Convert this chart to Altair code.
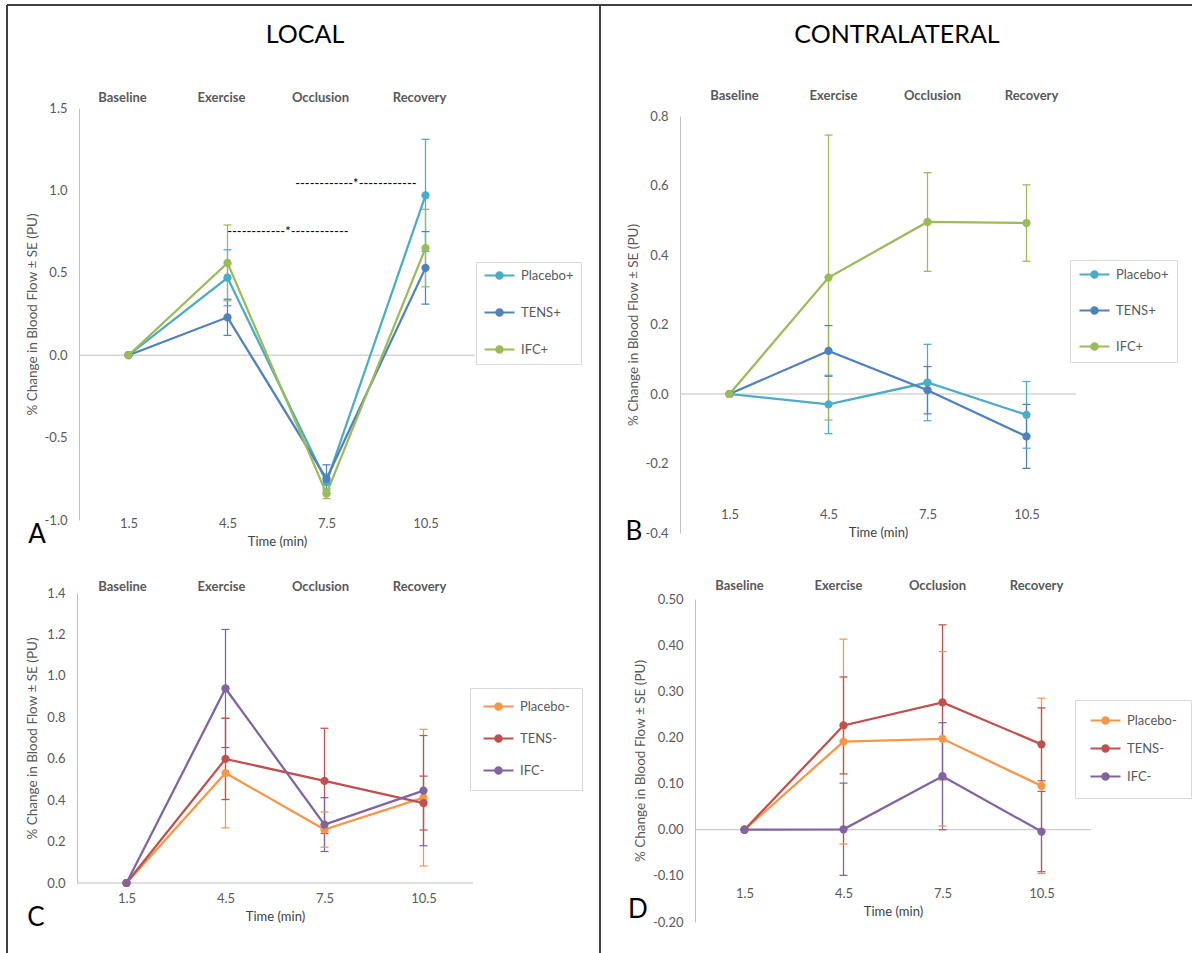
import altair as alt
import pandas as pd

# ---------------- data ----------------
times = [1.5, 4.5, 7.5, 10.5]
phases = ["Baseline", "Exercise", "Occlusion", "Recovery"]
x_ticks = [1.5, 4.5, 7.5, 10.5]

names_pos = ["Placebo+", "TENS+", "IFC+"]
names_neg = ["Placebo-", "TENS-", "IFC-"]
colors_pos = ["#4BACC6", "#4F81BD", "#9BBB59"]
colors_neg = ["#F79646", "#C0504D", "#8064A2"]

# Panel A : local, positive groups
a_placebo = [0.0, 0.47, -0.77, 0.97]
a_placebo_se = [0.0, 0.17, 0.05, 0.34]
a_tens = [0.0, 0.23, -0.75, 0.53]
a_tens_se = [0.0, 0.11, 0.085, 0.22]
a_ifc = [0.0, 0.56, -0.84, 0.65]
a_ifc_se = [0.0, 0.23, 0.03, 0.235]

# Panel B : contralateral, positive groups
b_placebo = [0.0, -0.03, 0.033, -0.06]
b_placebo_se = [0.0, 0.084, 0.11, 0.096]
b_tens = [0.0, 0.124, 0.011, -0.122]
b_tens_se = [0.0, 0.073, 0.068, 0.092]
b_ifc = [0.0, 0.335, 0.495, 0.492]
b_ifc_se = [0.0, 0.41, 0.142, 0.11]

# Panel C : local, negative groups
c_placebo = [0.0, 0.531, 0.258, 0.412]
c_placebo_se = [0.0, 0.265, 0.085, 0.33]
c_tens = [0.0, 0.599, 0.493, 0.386]
c_tens_se = [0.0, 0.196, 0.254, 0.13]
c_ifc = [0.0, 0.939, 0.282, 0.446]
c_ifc_se = [0.0, 0.285, 0.13, 0.266]

# Panel D : contralateral, negative groups
d_placebo = [0.0, 0.191, 0.197, 0.095]
d_placebo_se = [0.0, 0.222, 0.189, 0.19]
d_tens = [0.0, 0.226, 0.276, 0.185]
d_tens_se = [0.0, 0.105, 0.168, 0.079]
d_ifc = [0.0, 0.001, 0.116, -0.004]
d_ifc_se = [0.0, 0.1, 0.116, 0.087]

a_yticks = [-1.0, -0.5, 0.0, 0.5, 1.0, 1.5]
b_yticks = [-0.4, -0.2, 0.0, 0.2, 0.4, 0.6, 0.8]
c_yticks = [0.0, 0.2, 0.4, 0.6, 0.8, 1.0, 1.2, 1.4]
d_yticks = [-0.2, -0.1, 0.0, 0.1, 0.2, 0.3, 0.4, 0.5]

sig_x = [6.33, 8.39]
sig_y = [0.745, 1.04]
sig_text = ["------------*------------", "------------*------------"]

panel_titles = ["LOCAL", "CONTRALATERAL"]
panel_letters = ["A", "B", "C", "D"]

# ---------------- styling ----------------
FONT = "Lato"
GREY = "#595959"
AXIS_GREY = "#BFBFBF"
LEGEND_PATH = ("M-1,-0.2L5,-0.2L5,0.2L-1,0.2Z "
               "M2.85,0A0.85,0.85,0,1,1,1.15,0A0.85,0.85,0,1,1,2.85,0Z")


def label_expr(fmt):
    return ("datum.value < 0 ? '-' + format(-datum.value, '%s') : format(datum.value, '%s')"
            % (fmt, fmt))


def build_panel(names, colors, means, ses, xr, ydom, yr, yticks, yfmt,
                axis_y, ytitle_x, phase_dx, phase_dy, leg):
    rows = []
    for n, m, s in zip(names, means, ses):
        for t, v, e in zip(times, m, s):
            rows.append({"series": n, "time": t, "value": v,
                         "lo": v - e, "hi": v + e, "se": e})
    df = pd.DataFrame(rows)
    err = df[df["se"] > 0]

    xs = alt.Scale(domain=[0, 12], range=xr, nice=False, zero=False)
    ys = alt.Scale(domain=ydom, range=yr, nice=False, zero=False)
    cs = alt.Scale(domain=names, range=colors)

    def X(field="time", axis=None):
        return alt.X(field + ":Q", scale=xs, axis=axis)

    def Y(field, axis=None):
        return alt.Y(field + ":Q", scale=ys, axis=axis)

    def C(legend=None):
        return alt.Color("series:N", scale=cs, legend=legend)

    y_axis = alt.Axis(orient="left", offset=-xr[0], values=yticks,
                      labelExpr=label_expr(yfmt), domain=True,
                      domainColor=AXIS_GREY, domainWidth=1, ticks=False,
                      tickSize=0, grid=False, labelPadding=12, labelFont=FONT,
                      labelFontSize=13, labelColor=GREY,
                      title="% Change in Blood Flow ± SE (PU)", titleFont=FONT,
                      titleFontSize=13.5, titleFontWeight="normal",
                      titleColor=GREY, titleX=ytitle_x, titleBaseline="middle")
    x_axis = alt.Axis(orient="bottom", offset=-(953 - axis_y), values=x_ticks,
                      format=".1f", domain=False, ticks=False, tickSize=0,
                      grid=False, labelPadding=8, labelBaseline="middle",
                      labelFont=FONT, labelFontSize=13, labelColor=GREY,
                      title="Time (min)", titleFont=FONT, titleFontSize=13,
                      titleFontWeight="normal", titleColor="#404040",
                      titleY=26, titleBaseline="middle")

    zero_df = pd.DataFrame({"x0": [0.0], "x1": [12.0], "y": [0.0]})
    zero = alt.Chart(zero_df).mark_rule(color=AXIS_GREY, strokeWidth=1).encode(
        x=X("x0", x_axis), x2="x1:Q", y=Y("y", y_axis))

    bars = alt.Chart(err).mark_rule(strokeWidth=1.25).encode(
        x=X(), y=Y("lo"), y2="hi:Q", color=C())
    cap_lo = alt.Chart(err).mark_point(shape="stroke", size=64, strokeWidth=1.25,
                                       filled=False, opacity=1).encode(
        x=X(), y=Y("lo"), color=C())
    cap_hi = alt.Chart(err).mark_point(shape="stroke", size=64, strokeWidth=1.25,
                                       filled=False, opacity=1).encode(
        x=X(), y=Y("hi"), color=C())
    line = alt.Chart(df).mark_line(strokeWidth=2.25).encode(
        x=X(), y=Y("value"), color=C())
    legend = alt.Legend(orient="none", legendX=leg[0], legendY=leg[1], title=None,
                        symbolType=LEGEND_PATH, symbolSize=100,
                        symbolStrokeWidth=0, symbolOpacity=1, labelOffset=25,
                        rowPadding=leg[2], padding=leg[3],
                        strokeColor="#D9D9D9", fillColor="white",
                        labelFont=FONT, labelFontSize=13, labelColor=GREY,
                        direction="vertical")
    pts = alt.Chart(df).mark_circle(size=68, opacity=1).encode(
        x=X(), y=Y("value"), color=C(legend))

    ph_df = pd.DataFrame({"time": times, "phase": phases,
                          "top": [ydom[1]] * len(times)})
    ph = alt.Chart(ph_df).mark_text(font=FONT, fontSize=13, fontWeight="bold",
                                    color=GREY, dx=phase_dx, dy=phase_dy,
                                    baseline="middle", align="center").encode(
        x=X(), y=Y("top"), text="phase:N")

    layers = [zero, bars, cap_lo, cap_hi, line, pts, ph]
    return layers, xs, ys


layers = []

la, xsA, ysA = build_panel(names_pos, colors_pos,
                           [a_placebo, a_tens, a_ifc],
                           [a_placebo_se, a_tens_se, a_ifc_se],
                           [79, 475], [-1.0, 1.5], [520, 108], a_yticks, ".1f",
                           515, -47, -6, -10, (476, 262, 23, 7))
layers += la

# significance annotations in panel A
sig_df = pd.DataFrame({"x": sig_x, "y": sig_y, "t": sig_text})
layers.append(alt.Chart(sig_df).mark_text(font=FONT, fontSize=13, color="black",
                                          baseline="middle", align="center").encode(
    x=alt.X("x:Q", scale=xsA, axis=None), y=alt.Y("y:Q", scale=ysA, axis=None),
    text="t:N"))

lb, _, _ = build_panel(names_pos, colors_pos,
                       [b_placebo, b_tens, b_ifc],
                       [b_placebo_se, b_tens_se, b_ifc_se],
                       [680, 1076], [-0.4, 0.8], [533, 116], b_yticks, ".1f",
                       506, -47, 5, -20, (1070, 260, 22, 8))
layers += lb

lc, _, _ = build_panel(names_neg, colors_neg,
                       [c_placebo, c_tens, c_ifc],
                       [c_placebo_se, c_tens_se, c_ifc_se],
                       [77, 473], [0.0, 1.4], [883, 593], c_yticks, ".1f",
                       890, -45, -4, -6, (470, 688, 18, 12))
layers += lc

ld, _, _ = build_panel(names_neg, colors_neg,
                       [d_placebo, d_tens, d_ifc],
                       [d_placebo_se, d_tens_se, d_ifc_se],
                       [695, 1091], [-0.2, 0.5], [922, 599], d_yticks, ".2f",
                       885, -55, -5, -13, (1075, 700, 14, 14))
layers += ld

# ---------------- frame & annotation text ----------------
one = pd.DataFrame({"k": [0]})
FRAME = "#3F3F3F"
layers.append(alt.Chart(one).mark_rule(color=FRAME, strokeWidth=2).encode(
    x=alt.value(7), x2=alt.value(1192), y=alt.value(5)))
layers.append(alt.Chart(one).mark_rule(color=FRAME, strokeWidth=2).encode(
    x=alt.value(7), y=alt.value(5), y2=alt.value(953)))
layers.append(alt.Chart(one).mark_rule(color=FRAME, strokeWidth=2).encode(
    x=alt.value(600), y=alt.value(5), y2=alt.value(953)))

title_pos = [(305, 35), (897, 35)]
for t, (px, py) in zip(panel_titles, title_pos):
    layers.append(alt.Chart(pd.DataFrame({"t": [t]})).mark_text(
        font=FONT, fontSize=25, color="black", baseline="middle", align="center").encode(
        x=alt.value(px), y=alt.value(py), text="t:N"))

letter_pos = [(37, 535), (634, 532), (36, 918), (638, 910)]
for t, (px, py) in zip(panel_letters, letter_pos):
    layers.append(alt.Chart(pd.DataFrame({"t": [t]})).mark_text(
        font=FONT, fontSize=26, color="black", baseline="middle", align="center").encode(
        x=alt.value(px), y=alt.value(py), text="t:N"))

chart = alt.layer(*layers).resolve_scale(
    x="independent", y="independent", color="independent"
).properties(
    width=1192, height=953, padding=0, background="white",
    autosize=alt.AutoSizeParams(type="none")
).configure_view(stroke=None)

chart.save("out.html", embed_options={"renderer": "svg", "actions": False})
